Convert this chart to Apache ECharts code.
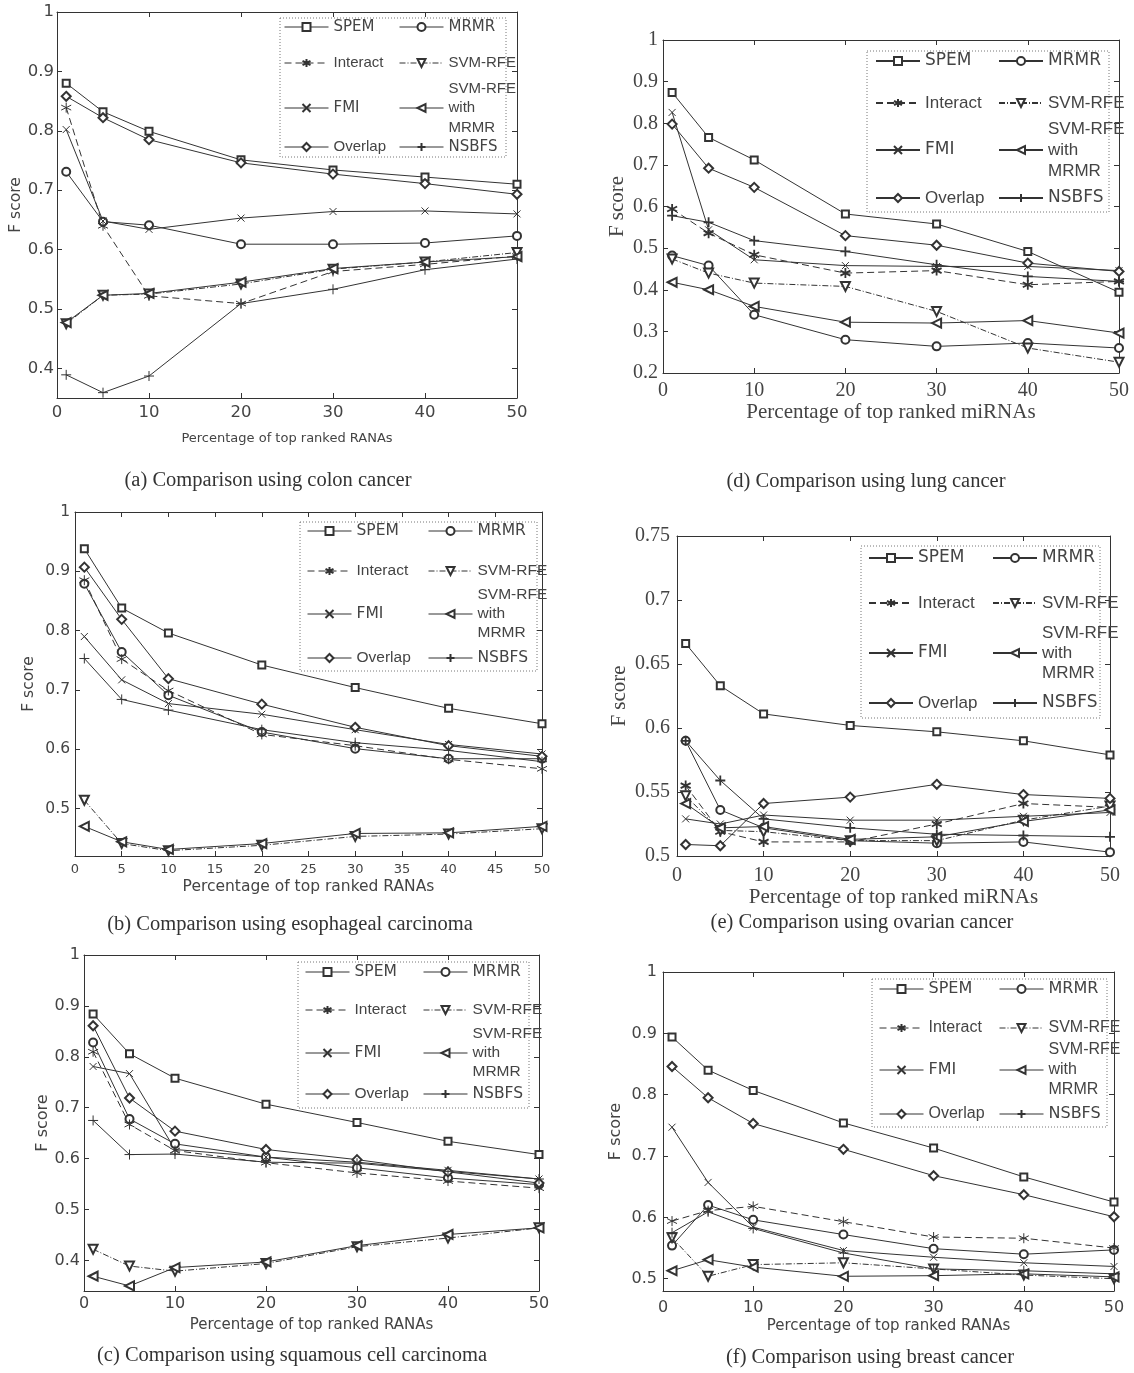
<!DOCTYPE html>
<html>
<head>
<meta charset="utf-8">
<title>F score comparison</title>
<script src="https://cdn.jsdelivr.net/npm/echarts@6/dist/echarts.min.js"></script>
<style>
  html, body { margin: 0; padding: 0; background: #fff; }
  #chart { width: 1134px; height: 1373px; }
</style>
</head>
<body>
<div id="chart"></div>
<script>
// x positions shared by every panel (percentage of top ranked features)
const pct = [1, 5, 10, 20, 30, 40, 50]
const methods = ['SPEM', 'MRMR', 'Interact', 'SVM-RFE', 'FMI', 'SVM-RFE with MRMR', 'Overlap', 'NSBFS']

/* (a) colon cancer */
const colonSPEM = [0.880, 0.832, 0.799, 0.751, 0.734, 0.722, 0.710]
const colonMRMR = [0.731, 0.647, 0.641, 0.609, 0.609, 0.611, 0.623]
const colonInteract = [0.839, 0.640, 0.522, 0.509, 0.563, 0.575, 0.589]
const colonSVM = [0.475, 0.523, 0.525, 0.542, 0.567, 0.579, 0.595]
const colonFMI = [0.802, 0.648, 0.634, 0.653, 0.664, 0.665, 0.660]
const colonSVMMRMR = [0.477, 0.523, 0.526, 0.545, 0.568, 0.579, 0.588]
const colonOverlap = [0.858, 0.822, 0.785, 0.746, 0.727, 0.711, 0.693]
const colonNSBFS = [0.389, 0.359, 0.387, 0.509, 0.533, 0.566, 0.584]

/* (d) lung cancer */
const lungSPEM = [0.874, 0.766, 0.712, 0.582, 0.558, 0.492, 0.394]
const lungMRMR = [0.482, 0.458, 0.340, 0.280, 0.264, 0.272, 0.260]
const lungInteract = [0.594, 0.536, 0.484, 0.440, 0.446, 0.412, 0.420]
const lungSVM = [0.474, 0.440, 0.416, 0.408, 0.348, 0.260, 0.226]
const lungFMI = [0.826, 0.544, 0.472, 0.458, 0.456, 0.456, 0.446]
const lungSVMMRMR = [0.418, 0.400, 0.360, 0.322, 0.320, 0.326, 0.296]
const lungOverlap = [0.798, 0.692, 0.646, 0.530, 0.507, 0.464, 0.444]
const lungNSBFS = [0.578, 0.562, 0.518, 0.492, 0.460, 0.432, 0.420]

/* (b) esophageal carcinoma */
const esoSPEM = [0.938, 0.838, 0.796, 0.742, 0.704, 0.669, 0.643]
const esoMRMR = [0.879, 0.764, 0.691, 0.629, 0.601, 0.584, 0.584]
const esoInteract = [0.885, 0.752, 0.699, 0.625, 0.606, 0.583, 0.567]
const esoSVM = [0.514, 0.441, 0.429, 0.438, 0.453, 0.457, 0.466]
const esoFMI = [0.790, 0.717, 0.677, 0.659, 0.633, 0.608, 0.592]
const esoSVMMRMR = [0.470, 0.444, 0.431, 0.441, 0.458, 0.459, 0.470]
const esoOverlap = [0.907, 0.819, 0.719, 0.676, 0.637, 0.606, 0.588]
const esoNSBFS = [0.753, 0.684, 0.666, 0.633, 0.611, 0.598, 0.579]

/* (e) ovarian cancer */
const ovaSPEM = [0.666, 0.633, 0.611, 0.602, 0.597, 0.590, 0.579]
const ovaMRMR = [0.590, 0.536, 0.522, 0.512, 0.510, 0.511, 0.503]
const ovaInteract = [0.555, 0.519, 0.511, 0.511, 0.525, 0.541, 0.538]
const ovaSVM = [0.547, 0.520, 0.519, 0.512, 0.512, 0.528, 0.539]
const ovaFMI = [0.529, 0.525, 0.532, 0.528, 0.528, 0.531, 0.534]
const ovaSVMMRMR = [0.541, 0.522, 0.523, 0.513, 0.515, 0.527, 0.536]
const ovaOverlap = [0.509, 0.508, 0.541, 0.546, 0.556, 0.548, 0.545]
const ovaNSBFS = [0.590, 0.559, 0.529, 0.522, 0.517, 0.516, 0.515]

/* (c) squamous cell carcinoma */
const squSPEM = [0.884, 0.806, 0.758, 0.707, 0.671, 0.634, 0.608]
const squMRMR = [0.828, 0.678, 0.629, 0.603, 0.582, 0.562, 0.549]
const squInteract = [0.810, 0.667, 0.616, 0.592, 0.572, 0.556, 0.542]
const squSVM = [0.422, 0.389, 0.379, 0.394, 0.427, 0.444, 0.464]
const squFMI = [0.781, 0.767, 0.618, 0.603, 0.593, 0.577, 0.560]
const squSVMMRMR = [0.369, 0.350, 0.386, 0.397, 0.429, 0.451, 0.464]
const squOverlap = [0.861, 0.719, 0.654, 0.618, 0.598, 0.574, 0.552]
const squNSBFS = [0.675, 0.608, 0.609, 0.593, 0.591, 0.575, 0.560]

/* (f) breast cancer */
const breSPEM = [0.894, 0.840, 0.807, 0.754, 0.713, 0.666, 0.625]
const breMRMR = [0.554, 0.620, 0.596, 0.572, 0.549, 0.540, 0.547]
const breInteract = [0.594, 0.611, 0.618, 0.593, 0.568, 0.566, 0.550]
const breSVM = [0.567, 0.504, 0.523, 0.526, 0.516, 0.506, 0.500]
const breFMI = [0.747, 0.657, 0.584, 0.546, 0.535, 0.526, 0.520]
const breSVMMRMR = [0.513, 0.531, 0.519, 0.504, 0.505, 0.508, 0.503]
const breOverlap = [0.846, 0.795, 0.753, 0.711, 0.668, 0.637, 0.601]
const breNSBFS = [0.575, 0.609, 0.582, 0.542, 0.516, 0.513, 0.508]

// tick labels
const xTicks10 = [0, 10, 20, 30, 40, 50]
const xTicks5 = [0, 5, 10, 15, 20, 25, 30, 35, 40, 45, 50]
const colonYTicks = [0.4, 0.5, 0.6, 0.7, 0.8, 0.9, 1]
const lungYTicks = [0.2, 0.3, 0.4, 0.5, 0.6, 0.7, 0.8, 0.9, 1]
const esoYTicks = [0.5, 0.6, 0.7, 0.8, 0.9, 1]
const ovaYTicks = [0.5, 0.55, 0.6, 0.65, 0.7, 0.75]
const squYTicks = [0.4, 0.5, 0.6, 0.7, 0.8, 0.9, 1]
const breYTicks = [0.5, 0.6, 0.7, 0.8, 0.9, 1]

const xTitleRANA = 'Percentage of top ranked RANAs'
const xTitleMiRNA = 'Percentage of top ranked miRNAs'

/* 标记样式 */
const STAR = 'path://M0,-5L0,5M-4.33,-2.5L4.33,2.5M-4.33,2.5L4.33,-2.5'
const CROSS = 'path://M-5,-5L5,5M-5,5L5,-5'
const PLUS = 'path://M-5,0L5,0M0,-5L0,5'
const marks = {
  'SPEM': { symbol: 'emptyRect', size: 7 },
  'MRMR': { symbol: 'emptyCircle', size: 8 },
  'Interact': { symbol: STAR, size: 10, dash: [7, 4] },
  'SVM-RFE': { symbol: 'emptyTriangle', size: 9, rotate: 180, dash: [6, 2, 1, 2] },
  'FMI': { symbol: CROSS, size: 7 },
  'SVM-RFE with MRMR': { symbol: 'emptyTriangle', size: 9, rotate: 90 },
  'Overlap': { symbol: 'emptyDiamond', size: 9 },
  'NSBFS': { symbol: PLUS, size: 10 }
}

/* 每个子图的布局 */
const panels = [
  {
    values: [colonSPEM, colonMRMR, colonInteract, colonSVM, colonFMI, colonSVMMRMR, colonOverlap, colonNSBFS],
    grid: { left: 57, top: 12, width: 460, height: 386 },
    yMin: 0.35, yMax: 1, yTicks: colonYTicks, xTicks: xTicks10,
    serif: false, tickFont: 16.5, xTickFont: 16.5, yMargin: 3, xMargin: 6,
    xTitle: xTitleRANA, xTitleFont: 13, xGap: 34, yTitleFont: 15.5, yGap: 31,
    box: { x: 280, y: 18, w: 226, h: 139 }, rows: [9, 45, 90, 129], cols: [4, 119],
    legendFont: 15, lh: 19.5, legendLine: 1,
    caption: '(a) Comparison using colon cancer', cap: [268, 481]
  },
  {
    values: [lungSPEM, lungMRMR, lungInteract, lungSVM, lungFMI, lungSVMMRMR, lungOverlap, lungNSBFS],
    grid: { left: 663, top: 40, width: 456, height: 333 },
    yMin: 0.2, yMax: 1, yTicks: lungYTicks, xTicks: xTicks10,
    serif: true, tickFont: 20, xTickFont: 20, yMargin: 5, xMargin: 8,
    xTitle: xTitleMiRNA, xTitleFont: 21, xGap: 26, yTitleFont: 21, yGap: 35,
    box: { x: 867, y: 51, w: 242, h: 161 }, rows: [10, 52, 99, 147], cols: [8, 131],
    legendFont: 17, lh: 21, legendLine: 2,
    caption: '(d) Comparison using lung cancer', cap: [866, 482]
  },
  {
    values: [esoSPEM, esoMRMR, esoInteract, esoSVM, esoFMI, esoSVMMRMR, esoOverlap, esoNSBFS],
    grid: { left: 75, top: 512, width: 467, height: 344 },
    yMin: 0.42, yMax: 1, yTicks: esoYTicks, xTicks: xTicks5,
    serif: false, tickFont: 15.5, xTickFont: 13, yMargin: 5, xMargin: 7,
    xTitle: xTitleRANA, xTitleFont: 15.5, xGap: 23, yTitleFont: 15.5, yGap: 38,
    box: { x: 300, y: 522, w: 237, h: 149 }, rows: [9, 49, 92, 136], cols: [7, 128],
    legendFont: 15.5, lh: 19, legendLine: 1,
    caption: '(b) Comparison using esophageal carcinoma', cap: [290, 925]
  },
  {
    values: [ovaSPEM, ovaMRMR, ovaInteract, ovaSVM, ovaFMI, ovaSVMMRMR, ovaOverlap, ovaNSBFS],
    grid: { left: 677, top: 536, width: 433, height: 320 },
    yMin: 0.5, yMax: 0.75, yTicks: ovaYTicks, xTicks: xTicks10,
    serif: true, tickFont: 20, xTickFont: 20, yMargin: 7, xMargin: 10,
    xTitle: xTitleMiRNA, xTitleFont: 21, xGap: 26, yTitleFont: 21, yGap: 47,
    box: { x: 861, y: 546, w: 239, h: 172 }, rows: [12, 57, 107, 157], cols: [7, 131],
    legendFont: 17, lh: 20, legendLine: 2,
    caption: '(e) Comparison using ovarian cancer', cap: [862, 923]
  },
  {
    values: [squSPEM, squMRMR, squInteract, squSVM, squFMI, squSVMMRMR, squOverlap, squNSBFS],
    grid: { left: 84, top: 955, width: 455, height: 336 },
    yMin: 0.34, yMax: 1, yTicks: squYTicks, xTicks: xTicks10,
    serif: false, tickFont: 16, xTickFont: 16, yMargin: 4, xMargin: 5,
    xTitle: xTitleRANA, xTitleFont: 15, xGap: 27, yTitleFont: 16, yGap: 31,
    box: { x: 298, y: 962, w: 231, h: 146 }, rows: [10, 48, 91, 132], cols: [7, 125],
    legendFont: 15.5, lh: 19, legendLine: 1,
    caption: '(c) Comparison using squamous cell carcinoma', cap: [292, 1356]
  },
  {
    values: [breSPEM, breMRMR, breInteract, breSVM, breFMI, breSVMMRMR, breOverlap, breNSBFS],
    grid: { left: 663, top: 972, width: 451, height: 319 },
    yMin: 0.48, yMax: 1, yTicks: breYTicks, xTicks: xTicks10,
    serif: false, tickFont: 16, xTickFont: 16, yMargin: 6, xMargin: 9,
    xTitle: xTitleRANA, xTitleFont: 15, xGap: 28, yTitleFont: 16, yGap: 39,
    box: { x: 872, y: 979, w: 235, h: 148 }, rows: [10, 49, 91, 135], cols: [7, 127],
    legendFont: 16, lh: 20, legendLine: 1,
    caption: '(f) Comparison using breast cancer', cap: [870, 1358]
  }
]

// 图例两列：左列 / 右列
const legendCols = [
  ['SPEM', 'Interact', 'FMI', 'Overlap'],
  ['MRMR', 'SVM-RFE', 'SVM-RFE with MRMR', 'NSBFS']
]
const wideNames = ['SPEM', 'MRMR', 'FMI', 'NSBFS']

const INK = '#333'
const TEXT = '#444'
const fmt = v => String(parseFloat(v.toFixed(2)))

const grids = []
const xAxes = []
const yAxes = []
const series = []
const legends = []
const graphics = []

panels.forEach((p, gi) => {
  const font = p.serif ? 'Liberation Serif' : 'DejaVu Sans'
  grids.push(Object.assign({ containLabel: false, outerBoundsMode: 'none' }, p.grid))

  const line = { onZero: false, lineStyle: { color: INK, width: 1 } }
  const tick = vals => ({ inside: true, length: 5, customValues: vals, lineStyle: { color: INK } })

  /* x 轴：底部带刻度标签，顶部只画刻度 */
  xAxes.push({
    gridIndex: gi, type: 'value', min: 0, max: 50, position: 'bottom',
    axisLine: line, axisTick: tick(p.xTicks), splitLine: { show: false },
    axisLabel: { customValues: p.xTicks, margin: p.xMargin, fontFamily: font, fontSize: p.xTickFont, color: TEXT },
    name: p.xTitle, nameLocation: 'middle', nameGap: p.xGap,
    nameTextStyle: { fontFamily: font, fontSize: p.xTitleFont, color: TEXT }
  })
  xAxes.push({
    gridIndex: gi, type: 'value', min: 0, max: 50, position: 'top',
    axisLine: line, axisTick: tick(p.xTicks), axisLabel: { show: false }, splitLine: { show: false }
  })

  /* y 轴：左侧带刻度标签，右侧只画刻度 */
  yAxes.push({
    gridIndex: gi, type: 'value', min: p.yMin, max: p.yMax, position: 'left',
    axisLine: line, axisTick: tick(p.yTicks), splitLine: { show: false },
    axisLabel: { customValues: p.yTicks, formatter: fmt, margin: p.yMargin, fontFamily: font, fontSize: p.tickFont, color: TEXT },
    name: 'F score', nameLocation: 'middle', nameGap: p.yGap, nameRotate: 90,
    nameTextStyle: { fontFamily: font, fontSize: p.yTitleFont, color: TEXT }
  })
  yAxes.push({
    gridIndex: gi, type: 'value', min: p.yMin, max: p.yMax, position: 'right',
    axisLine: line, axisTick: tick(p.yTicks), axisLabel: { show: false }, splitLine: { show: false }
  })

  methods.forEach((name, k) => {
    const m = marks[name]
    series.push({
      name, type: 'line', xAxisIndex: gi * 2, yAxisIndex: gi * 2,
      data: pct.map((x, i) => [x, p.values[k][i]]),
      symbol: m.symbol, symbolSize: m.size, symbolRotate: m.rotate || 0,
      lineStyle: { color: INK, width: 1, type: m.dash || 'solid' },
      itemStyle: { color: INK, borderColor: INK, borderWidth: p.serif && (name === 'Interact' || name === 'NSBFS') ? 1.8 : 1 },
      emphasis: { disabled: true },
      animation: false
    })
  })

  /* 图例：每项单独定位，外加虚线框 */
  legendCols.forEach((col, c) => {
    col.forEach((name, r) => {
      const lines = name === 'SVM-RFE with MRMR' ? 3 : 1
      const h = Math.max(10, lines * p.lh)
      legends.push({
        data: [name], selectedMode: false, orient: 'horizontal', padding: 0,
        left: p.box.x + p.cols[c], top: p.box.y + p.rows[r] - h / 2,
        itemWidth: 44, itemHeight: 10, itemGap: 0,
        formatter: n => (n === 'SVM-RFE with MRMR' ? 'SVM-RFE\nwith\nMRMR' : n),
        lineStyle: { width: p.legendLine },
        textStyle: {
          fontFamily: wideNames.includes(name) ? 'DejaVu Sans' : 'Liberation Sans',
          fontSize: p.legendFont, lineHeight: p.lh, color: TEXT
        }
      })
    })
  })

  graphics.push({
    type: 'rect', silent: true,
    shape: { x: p.box.x, y: p.box.y, width: p.box.w, height: p.box.h },
    style: { fill: 'none', stroke: '#777', lineWidth: 1, lineDash: [1, 2] }
  })
  graphics.push({
    type: 'text', silent: true, x: p.cap[0], y: p.cap[1],
    style: { text: p.caption, fontFamily: 'Liberation Serif', fontSize: 20.5, fill: INK, align: 'center', verticalAlign: 'middle' }
  })
})

const chart = echarts.init(document.getElementById('chart'))
chart.setOption({
  backgroundColor: '#fff',
  animation: false,
  grid: grids,
  xAxis: xAxes,
  yAxis: yAxes,
  legend: legends,
  series: series,
  graphic: graphics
})
</script>
</body>
</html>
